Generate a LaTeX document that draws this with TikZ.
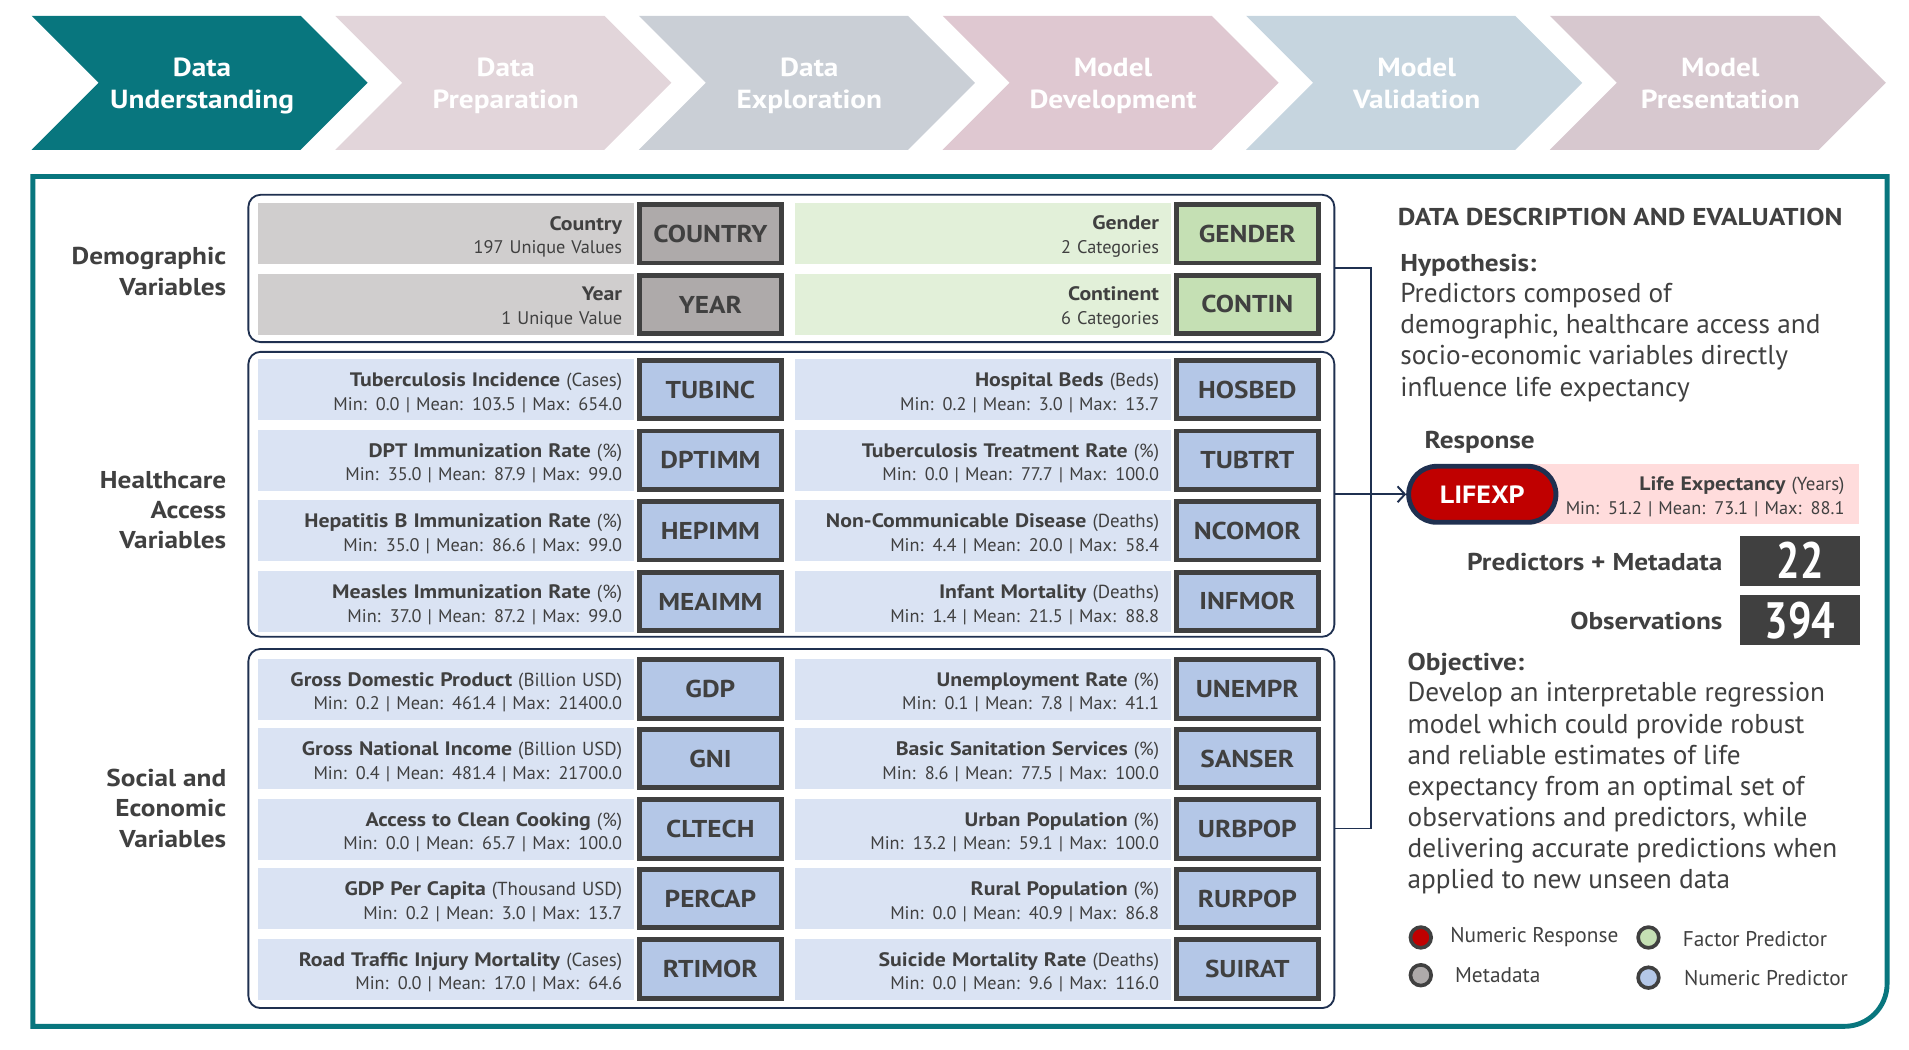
\documentclass[tikz,border=0pt]{standalone}
\usepackage{fontspec}
\setmainfont{PT Sans}[BoldFeatures={FakeStretch=1.12}]
\newfontfamily\numfont{PT Sans}[FakeStretch=0.81]
\usetikzlibrary{arrows.meta}
\definecolor{tealc}{HTML}{08767E}
\definecolor{txt}{HTML}{404040}
\definecolor{navy}{HTML}{1F3050}
\definecolor{grayd}{HTML}{D0CECE}
\definecolor{grayc}{HTML}{AEAAAA}
\definecolor{greend}{HTML}{E2F0D9}
\definecolor{greenc}{HTML}{C5E0B4}
\definecolor{blued}{HTML}{DAE3F3}
\definecolor{bluec}{HTML}{B4C7E7}
\definecolor{redc}{HTML}{C00000}
\definecolor{pinkc}{HTML}{FFDCDC}
\definecolor{chA}{HTML}{08767E}
\definecolor{chB}{HTML}{E2D5DA}
\definecolor{chC}{HTML}{CACFD6}
\definecolor{chD}{HTML}{DFC8D1}
\definecolor{chE}{HTML}{C6D5DF}
\definecolor{chF}{HTML}{D7C8CF}
\tikzset{
  desc/.style={rectangle, minimum width=309pt, minimum height=50pt, text width=289pt, align=right,
    inner xsep=10pt, inner ysep=0pt, font=\fontsize{15}{19.5}\selectfont, text=txt},
  code/.style={rectangle, draw=txt, line width=4pt, minimum width=117pt, minimum height=48pt,
    inner sep=0pt, font=\bfseries\fontsize{20}{24}\selectfont, text=txt},
  grp/.style={rectangle, draw=navy, line width=1.5pt, rounded corners=10pt, minimum width=892pt},
  grplabel/.style={anchor=east, align=right, font=\bfseries\fontsize{20}{25}\selectfont, text=txt, inner sep=0pt},
  chevtext/.style={align=center, text=white, font=\bfseries\fontsize{21.5}{26}\selectfont},
  para/.style={align=left, anchor=north west, inner sep=0pt, text=txt, font=\fontsize{22.4}{25.6}\selectfont},
  boldlbl/.style={inner sep=0pt, text=txt, font=\bfseries\fontsize{20}{24}\selectfont},
  statbox/.style={rectangle, fill=txt, minimum width=99pt, minimum height=41pt, inner sep=0pt,
    text=white, font=\numfont\bfseries\fontsize{42}{44}\selectfont},
  legdot/.style={circle, draw=txt, line width=3pt, minimum size=17pt, inner sep=0pt},
  legtext/.style={anchor=west, inner sep=0pt, text=txt, font=\fontsize{17.5}{20}\selectfont},
  conn/.style={draw=navy, line width=1.6pt},
}
\newcommand\hd[1]{{\fontsize{16}{19.5}\selectfont\textbf{#1}}}
\newcommand\vrow[7]{%
  \node[desc, fill=#4d] (#1d) at (#2,#3) {{\fontsize{15.5}{19.5}\selectfont\rule{0pt}{16.5pt}#5}\\#6};
  \node[code, fill=#4c] (#1) at ([xshift=217pt]#1d.center) {#7};
}
\newcommand\chev[4]{%
  \fill[#2] (#1,-13) -- ++(221,0) -- ++(55,-55) -- ++(-55,-55) -- ++(-221,0) -- ++(55,55) -- cycle;
  \node[chevtext] (#3) at (#1+140,-70.5) {#4\vphantom{g}};
}
\begin{document}
\begin{tikzpicture}[x=1pt,y=1pt]
\useasboundingbox (0,0) rectangle (1568,-862.4);
% chevrons
\chev{26}{chA}{ch1}{Data\\Understanding}
\chev{275.4}{chB}{ch2}{Data\\Preparation}
\chev{524.8}{chC}{ch3}{Data\\Exploration}
\chev{774.2}{chD}{ch4}{Model\\Development}
\chev{1023.6}{chE}{ch5}{Model\\Validation}
\chev{1273}{chF}{ch6}{Model\\Presentation}
% frame
\draw[tealc, line width=4pt] (27,-145) -- (1550,-145) -- (1550,-808)
  arc[start angle=0, end angle=-90, radius=35] -- (27,-843) -- cycle;
% groups
\node[grp, minimum height=121pt] (demo) at (650,-220.5) {};
\node[grp, minimum height=234pt] (health) at (650,-406) {};
\node[grp, minimum height=295pt] (social) at (650,-680.5) {};
% group labels
\node[grplabel] (demolbl) at (186,-223) {Demographic\\Variables};
\node[grplabel] (healthlbl) at (186,-419) {Healthcare\\Access\\Variables};
\node[grplabel] (sociallbl) at (186,-664) {Social and\\Economic\\Variables};
% demographic rows
\vrow{COUNTRY}{366.5}{-192}{gray}{\hd{Country}}{197 Unique Values}{COUNTRY}
\vrow{YEAR}{366.5}{-250}{gray}{\hd{Year}}{1 Unique Value}{YEAR}
\vrow{GENDER}{807.5}{-192}{green}{\hd{Gender}}{2 Categories}{GENDER}
\vrow{CONTIN}{807.5}{-250}{green}{\hd{Continent}}{6 Categories}{CONTIN}
% healthcare rows
\vrow{TUBINC}{366.5}{-320}{blue}{\hd{Tuberculosis Incidence} (Cases)}{Min: 0.0 | Mean: 103.5 | Max: 654.0}{TUBINC}
\vrow{DPTIMM}{366.5}{-378}{blue}{\hd{DPT Immunization Rate} (\%)}{Min: 35.0 | Mean: 87.9 | Max: 99.0}{DPTIMM}
\vrow{HEPIMM}{366.5}{-436}{blue}{\hd{Hepatitis B Immunization Rate} (\%)}{Min: 35.0 | Mean: 86.6 | Max: 99.0}{HEPIMM}
\vrow{MEAIMM}{366.5}{-494}{blue}{\hd{Measles Immunization Rate} (\%)}{Min: 37.0 | Mean: 87.2 | Max: 99.0}{MEAIMM}
\vrow{HOSBED}{807.5}{-320}{blue}{\hd{Hospital Beds} (Beds)}{Min: 0.2 | Mean: 3.0 | Max: 13.7}{HOSBED}
\vrow{TUBTRT}{807.5}{-378}{blue}{\hd{Tuberculosis Treatment Rate} (\%)}{Min: 0.0 | Mean: 77.7 | Max: 100.0}{TUBTRT}
\vrow{NCOMOR}{807.5}{-436}{blue}{\hd{Non-Communicable Disease} (Deaths)}{Min: 4.4 | Mean: 20.0 | Max: 58.4}{NCOMOR}
\vrow{INFMOR}{807.5}{-494}{blue}{\hd{Infant Mortality} (Deaths)}{Min: 1.4 | Mean: 21.5 | Max: 88.8}{INFMOR}
% social rows
\vrow{GDP}{366.5}{-566}{blue}{\hd{Gross Domestic Product} (Billion USD)}{Min: 0.2 | Mean: 461.4 | Max: 21400.0}{GDP}
\vrow{GNI}{366.5}{-623}{blue}{\hd{Gross National Income} (Billion USD)}{Min: 0.4 | Mean: 481.4 | Max: 21700.0}{GNI}
\vrow{CLTECH}{366.5}{-681}{blue}{\hd{Access to Clean Cooking} (\%)}{Min: 0.0 | Mean: 65.7 | Max: 100.0}{CLTECH}
\vrow{PERCAP}{366.5}{-738}{blue}{\hd{GDP Per Capita} (Thousand USD)}{Min: 0.2 | Mean: 3.0 | Max: 13.7}{PERCAP}
\vrow{RTIMOR}{366.5}{-796}{blue}{\hd{Road Traffic Injury Mortality} (Cases)}{Min: 0.0 | Mean: 17.0 | Max: 64.6}{RTIMOR}
\vrow{UNEMPR}{807.5}{-566}{blue}{\hd{Unemployment Rate} (\%)}{Min: 0.1 | Mean: 7.8 | Max: 41.1}{UNEMPR}
\vrow{SANSER}{807.5}{-623}{blue}{\hd{Basic Sanitation Services} (\%)}{Min: 8.6 | Mean: 77.5 | Max: 100.0}{SANSER}
\vrow{URBPOP}{807.5}{-681}{blue}{\hd{Urban Population} (\%)}{Min: 13.2 | Mean: 59.1 | Max: 100.0}{URBPOP}
\vrow{RURPOP}{807.5}{-738}{blue}{\hd{Rural Population} (\%)}{Min: 0.0 | Mean: 40.9 | Max: 86.8}{RURPOP}
\vrow{SUIRAT}{807.5}{-796}{blue}{\hd{Suicide Mortality Rate} (Deaths)}{Min: 0.0 | Mean: 9.6 | Max: 116.0}{SUIRAT}
% right panel
\node[boldlbl, anchor=base west] (title) at (1148,-185) {DATA DESCRIPTION AND EVALUATION};
\node[para] (hyp) at (1150,-208.5) {{\bfseries\fontsize{20}{24}\selectfont Hypothesis:}\\Predictors composed of\\demographic, healthcare access and\\socio-economic variables directly\\influence life expectancy};
\node[boldlbl, anchor=base west] (resp) at (1170,-368) {Response};
\node[rectangle, fill=pinkc, minimum width=277pt, minimum height=49pt, text width=253pt, align=right,
  inner xsep=12pt, inner ysep=0pt, font=\fontsize{15}{19.5}\selectfont, text=txt] (lifed) at (1388.5,-405.5)
  {{\fontsize{15.5}{19.5}\selectfont\rule{0pt}{16.5pt}\hd{Life Expectancy} (Years)}\\Min: 51.2 | Mean: 73.1 | Max: 88.1};
\node[rectangle, rounded corners=23pt, fill=redc, draw=navy, line width=4pt, minimum width=121pt,
  minimum height=46pt, inner sep=0pt, text=white, font=\bfseries\fontsize{20.5}{24}\selectfont] (lifexp) at (1217.5,-406) {LIFEXP};
\node[statbox] (npred) at (1478.5,-460.5) {22};
\node[statbox] (nobs) at (1478.5,-509.5) {394};
\node[boldlbl, anchor=east] (npredlbl) at (1415,-462) {Predictors + Metadata};
\node[boldlbl, anchor=east] (nobslbl) at (1415,-510) {Observations};
\node[para] (obj) at (1156,-536.5) {{\bfseries\fontsize{20}{24}\selectfont Objective:}\\Develop an interpretable regression\\model which could provide robust\\and reliable estimates of life\\expectancy from an optimal set of\\observations and predictors, while\\delivering accurate predictions when\\applied to new unseen data};
% legend
\node[legdot, fill=redc] (lg1) at (1167,-770) {};
\node[legdot, fill=grayc] (lg2) at (1167,-801) {};
\node[legdot, fill=greenc] (lg3) at (1354,-770) {};
\node[legdot, fill=bluec] (lg4) at (1354,-803) {};
\node[legtext] (lt1) at (1191,-770) {Numeric Response};
\node[legtext] (lt2) at (1195,-801) {Metadata};
\node[legtext] (lt3) at (1382,-771) {Factor Predictor};
\node[legtext] (lt4) at (1383,-803) {Numeric Predictor};
% connectors
\coordinate (jx) at (1126,0);
\draw[conn] (demo.east) -- (demo.east -| jx) -- (social.east -| jx) -- (social.east);
\draw[conn, -{Straight Barb[length=6pt, width=13pt, line width=1.6pt]}] (health.east) -- (lifexp.west);
\end{tikzpicture}
\end{document}
